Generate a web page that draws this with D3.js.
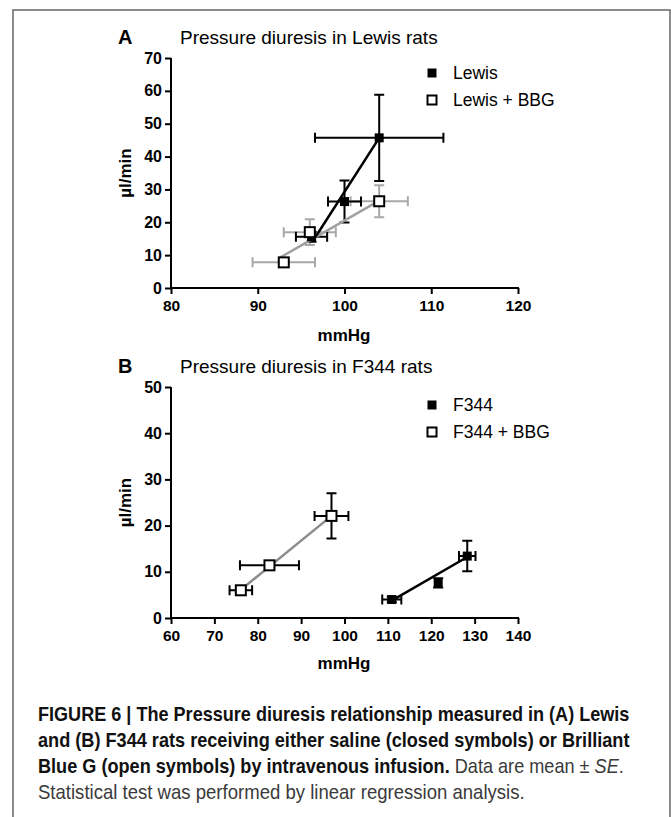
<!DOCTYPE html>
<html>
<head>
<meta charset="utf-8">
<script src="https://cdn.jsdelivr.net/npm/d3@7"></script>
<style>
  html, body { margin: 0; padding: 0; background: #fff; }
  svg { display: block; }
</style>
</head>
<body>
<svg id="chart" width="671" height="817"></svg>
<script>
// ---------- Panel A data (Lewis rats) ----------
const lewisX    = [96.2, 100.0, 104.0];
const lewisY    = [15.6, 26.3, 45.7];
const lewisXErr = [1.8, 1.9, 7.4];
const lewisYErr = [1.5, 6.4, 13.1];
const lewisFit  = [[96.6, 15.3], [104.0, 45.7]];

const lewisBbgX    = [93.0, 96.0, 104.0];
const lewisBbgY    = [7.8, 17.0, 26.4];
const lewisBbgXErr = [3.6, 3.0, 3.3];
const lewisBbgYErr = [1.0, 3.9, 4.9];
const lewisBbgFit  = [[92.6, 9.3], [104.0, 26.6]];

const xTicksA = [80, 90, 100, 110, 120];
const yTicksA = [0, 10, 20, 30, 40, 50, 60, 70];

// ---------- Panel B data (F344 rats) ----------
const f344X    = [110.9, 121.6, 128.3];
const f344Y    = [4.0, 7.6, 13.4];
const f344XErr = [2.2, 0.5, 1.9];
const f344YErr = [0.6, 1.0, 3.3];
const f344Fit  = [[111.0, 3.8], [128.3, 13.2]];

const f344BbgX    = [76.1, 82.7, 97.0];
const f344BbgY    = [6.0, 11.4, 22.1];
const f344BbgXErr = [2.6, 6.8, 3.9];
const f344BbgYErr = [0.6, 0.8, 4.9];
const f344BbgFit  = [[76.1, 6.1], [97.0, 22.1]];

const xTicksB = [60, 70, 80, 90, 100, 110, 120, 130, 140];
const yTicksB = [0, 10, 20, 30, 40, 50];

const FONT = "'Liberation Sans', Arial, Helvetica, sans-serif";
const svg = d3.select("#chart");

// outer frame
svg.append("rect").attr("x", 13).attr("y", 10).attr("width", 657).attr("height", 830)
  .attr("fill", "#fff").attr("stroke", "#666").attr("stroke-width", 1.5);

function panel(cfg) {
  const x = d3.scaleLinear().domain(cfg.xDomain).range([171, 518]);
  const y = d3.scaleLinear().domain(cfg.yDomain).range([cfg.yBottom, cfg.yTop]);
  const g = svg.append("g");

  g.append("text").attr("x", 118).attr("y", cfg.titleY).text(cfg.letter)
    .attr("font-family", FONT).attr("font-weight", "bold").attr("font-size", 20);
  g.append("text").attr("x", 180).attr("y", cfg.titleY).text(cfg.title)
    .attr("font-family", FONT).attr("font-size", 19);

  const xAxis = g.append("g").attr("transform", `translate(0,${cfg.yBottom})`)
    .call(d3.axisBottom(x).tickValues(cfg.xTicks).tickSize(6).tickPadding(6).tickSizeOuter(0));
  const yAxis = g.append("g").attr("transform", `translate(171,0)`)
    .call(d3.axisLeft(y).tickValues(cfg.yTicks).tickSize(6).tickPadding(3).tickSizeOuter(0));
  [xAxis, yAxis].forEach(a => {
    a.select(".domain").attr("stroke", "#000").attr("stroke-width", 2);
    a.selectAll(".tick line").attr("stroke", "#000").attr("stroke-width", 2);
    a.selectAll(".tick text").attr("font-family", FONT).attr("font-weight", "bold")
      .attr("fill", "#000");
  });
  xAxis.selectAll(".tick text").attr("font-size", 15.5);
  yAxis.selectAll(".tick text").attr("font-size", 16);
  xAxis.select(".domain").attr("d", `M${170},0H${x(cfg.xDomain[1]) + 1}`);
  yAxis.select(".domain").attr("d", `M0,${cfg.yBottom + 1}V${cfg.yTop}`);

  g.append("text").attr("x", 344).attr("y", cfg.yBottom + cfg.xLabelOff).attr("text-anchor", "middle")
    .text("mmHg").attr("font-family", FONT).attr("font-weight", "bold").attr("font-size", 17);
  const ymid = (cfg.yBottom + cfg.yTop) / 2;
  g.append("text").attr("transform", `translate(131,${ymid}) rotate(-90)`)
    .attr("text-anchor", "middle").text("\u00b5l/min")
    .attr("font-family", FONT).attr("font-weight", "bold").attr("font-size", 17);

  function errors(s) {
    const eg = g.append("g").attr("stroke", s.errColor).attr("stroke-width", 2).attr("fill", "none");
    const cap = 5;
    s.xs.forEach((xv, i) => {
      const cx = x(xv), cy = y(s.ys[i]);
      const x0 = x(xv - s.xErr[i]), x1 = x(xv + s.xErr[i]);
      const y0 = y(s.ys[i] - s.yErr[i]), y1 = y(s.ys[i] + s.yErr[i]);
      eg.append("path").attr("d",
        `M${x0},${cy}H${x1}M${x0},${cy - cap}V${cy + cap}M${x1},${cy - cap}V${cy + cap}` +
        `M${cx},${y0}V${y1}M${cx - cap},${y0}H${cx + cap}M${cx - cap},${y1}H${cx + cap}`);
    });
  }
  function fitLine(s) {
    g.append("path").datum(s.fit)
      .attr("d", d3.line().x(d => x(d[0])).y(d => y(d[1])))
      .attr("stroke", s.lineColor).attr("stroke-width", 2.5).attr("fill", "none");
  }
  function markers(s) {
    const sz = s.open ? 10 : 9;
    s.xs.forEach((xv, i) => {
      g.append("rect").attr("x", x(xv) - sz / 2).attr("y", y(s.ys[i]) - sz / 2)
        .attr("width", sz).attr("height", sz)
        .attr("fill", s.open ? "#fff" : "#000")
        .attr("stroke", "#000").attr("stroke-width", s.open ? 2 : 0);
    });
  }
  const [closed, open] = cfg.series;
  errors(open); errors(closed);
  fitLine(open); fitLine(closed);
  markers(closed); markers(open);

  cfg.legend.forEach((lab, i) => {
    const ly = cfg.legendY + i * 27;
    const sz = 9;
    g.append("rect").attr("x", 432 - sz / 2).attr("y", ly - sz / 2).attr("width", sz).attr("height", sz)
      .attr("fill", i === 0 ? "#000" : "#fff").attr("stroke", "#000").attr("stroke-width", i === 0 ? 0 : 2);
    g.append("text").attr("x", 453).attr("y", ly).attr("dy", "0.35em").text(lab)
      .attr("font-family", FONT).attr("font-size", 17.5);
  });
}

panel({
  letter: "A", title: "Pressure diuresis in Lewis rats", titleY: 44,
  xDomain: [80, 120], yDomain: [0, 70], yBottom: 288, yTop: 58, xLabelOff: 53,
  xTicks: xTicksA, yTicks: yTicksA, legendY: 73, legend: ["Lewis", "Lewis + BBG"],
  series: [
    { xs: lewisX, ys: lewisY, xErr: lewisXErr, yErr: lewisYErr, fit: lewisFit,
      errColor: "#000", lineColor: "#000", open: false },
    { xs: lewisBbgX, ys: lewisBbgY, xErr: lewisBbgXErr, yErr: lewisBbgYErr, fit: lewisBbgFit,
      errColor: "#a8a8a8", lineColor: "#a0a0a0", open: true }
  ]
});

panel({
  letter: "B", title: "Pressure diuresis in F344 rats", titleY: 373,
  xDomain: [60, 140], yDomain: [0, 50], yBottom: 618, yTop: 387, xLabelOff: 51,
  xTicks: xTicksB, yTicks: yTicksB, legendY: 405, legend: ["F344", "F344 + BBG"],
  series: [
    { xs: f344X, ys: f344Y, xErr: f344XErr, yErr: f344YErr, fit: f344Fit,
      errColor: "#000", lineColor: "#000", open: false },
    { xs: f344BbgX, ys: f344BbgY, xErr: f344BbgXErr, yErr: f344BbgYErr, fit: f344BbgFit,
      errColor: "#000", lineColor: "#8c8c8c", open: true }
  ]
});

// caption (condensed look: Liberation Sans squeezed horizontally to the reference widths)
const capLines = [
  [{ t: "FIGURE 6 | The Pressure diuresis relationship measured in (A) Lewis", b: true }],
  [{ t: "and (B) F344 rats receiving either saline (closed symbols) or Brilliant", b: true }],
  [{ t: "Blue G (open symbols) by intravenous infusion.", b: true },
   { t: " Data are mean \u00b1 ", b: false }, { t: "SE", b: false, i: true }, { t: ".", b: false }],
  [{ t: "Statistical test was performed by linear regression analysis.", b: false }]
];
const capWidths = [592, 592, 586, 487];
capLines.forEach((ln, k) => {
  const yy = 721 + k * 26;
  const t = svg.append("text").attr("x", 0).attr("y", 0)
    .attr("font-family", FONT).attr("font-size", 20).attr("fill", "#222");
  ln.forEach(p => {
    t.append("tspan").text(p.t)
      .attr("font-weight", p.b ? "bold" : "normal")
      .attr("font-style", p.i ? "italic" : "normal")
      .attr("fill", p.b ? "#111" : "#3a3a3a");
  });
  const w = t.node().getComputedTextLength();
  const sx = capWidths[k] / w;
  t.attr("transform", `translate(38,${yy}) scale(${sx},1)`);
});
</script>
</body>
</html>
